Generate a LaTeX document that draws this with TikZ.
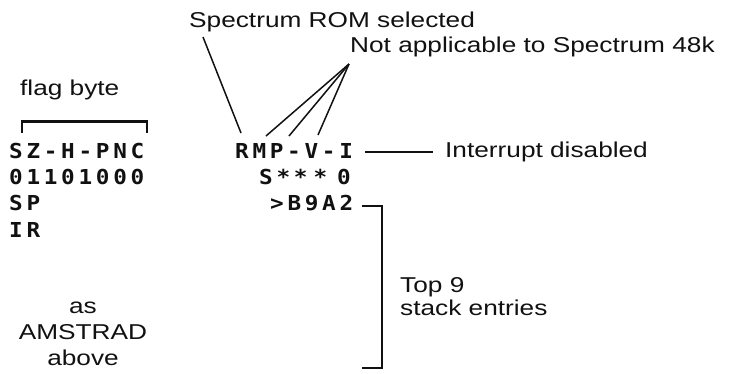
\documentclass[tikz,border=0pt]{standalone}
\usepackage{fontspec}
\setmainfont{Liberation Sans}[FakeStretch=1.22]
\newfontfamily\regfont{DejaVu Sans Mono}[FakeStretch=1.1, LetterSpace=18]
\usetikzlibrary{positioning,calc}
\definecolor{ink}{HTML}{111111}
\tikzset{
  figbase/.style={x=1pt, y=-1pt, color=ink, line cap=butt, line join=miter},
  lead/.style={draw=ink, line width=1.5pt},
  brk/.style={draw=ink, line width=2.2pt},
  lab/.style={font=\fontsize{21.5}{26}\selectfont, inner sep=0pt, text=ink},
  reg/.style={font=\regfont\bfseries\fontsize{20.6}{26}\selectfont, inner sep=0pt, text=ink},
}

\begin{document}
\begin{tikzpicture}[figbase]
  \useasboundingbox (0,0) rectangle (729,373);

  % left column
  \node[lab, anchor=base west] (flag) at (20,95) {flag byte};
  \node[reg, anchor=base west] (fnames) at (9,158) {SZ-H-PNC};
  \node[reg, anchor=base west] (fbits) at (9,184) {01101000};
  \node[reg, anchor=base west] (sp) at (9,210) {SP};
  \node[reg, anchor=base west] (ir) at (9,237) {IR};
  \node[lab, anchor=north, align=center] (asam) at (83,302) {as\\AMSTRAD\\above};

  \draw[brk] ($(fnames.north west)+(13,-10)$) |- ($(fnames.north west)+(138,-21)$) -- ++(0,11);

  % right column
  \node[reg, anchor=base west] (rmp) at (235,158) {RMP-V-I};
  \node[reg, anchor=base west] (sstar) at (259,184) {S**\hspace{6pt}*\hspace{10pt}0};
  \node[reg, anchor=base west] (stk) at (270,210) {>B9A2};

  \node[lab, anchor=base west] (rom) at (189,27) {Spectrum ROM selected};
  \node[lab, anchor=base west] (notapp) at (350,52) {Not applicable to Spectrum 48k};
  \node[lab, anchor=base west] (intdis) at (445,157) {Interrupt disabled};
  \node[lab, anchor=north west, align=left, font=\fontsize{21.5}{23}\selectfont] (top9) at (400,277)
    {Top 9\\stack entries};

  \coordinate (romhead) at (203,37);
  \coordinate (romfoot) at (241,133);
  \draw[lead] (romhead) -- (romfoot);

  \coordinate (apex) at (349,64);
  \coordinate (mtip) at (266,136);
  \coordinate (ptip) at (289,136);
  \coordinate (vtip) at (318,135);
  \draw[lead] (apex) -- (mtip);
  \draw[lead] (apex) -- (ptip);
  \draw[lead] (apex) -- (vtip);

  \draw[lead] ($(rmp.base west)+(130,-6)$) -- ($(intdis.base west)+(-12,-5)$);

  \draw[brk] ($(stk.base west)+(92,-4)$) -- ++(20,0) -- ++(0,162) -- ++(-20,0);
\end{tikzpicture}
\end{document}
